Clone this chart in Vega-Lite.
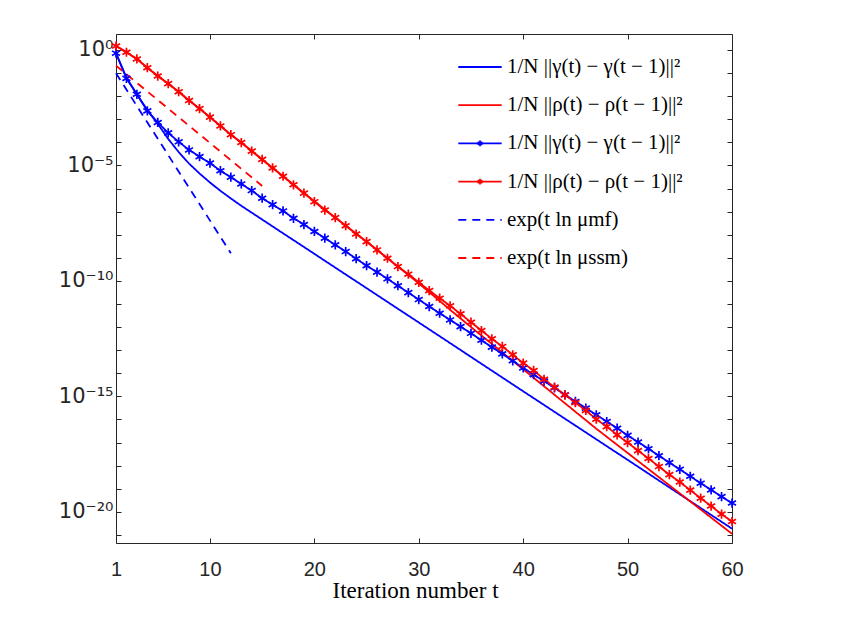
{
  "$schema": "https://vega.github.io/schema/vega-lite/v6.json",
  "width": 616,
  "height": 509,
  "autosize": {"type": "none"},
  "padding": {"left": 116, "top": 34, "right": 123, "bottom": 76},
  "background": "white",
  "config": {
    "view": {"stroke": null},
    "axis": {
      "domainColor": "#262626", "tickColor": "#262626", "labelColor": "#262626", "titleColor": "#000000",
      "grid": false, "tickSize": -5, "domainWidth": 1, "tickWidth": 1,
      "labelFont": "Liberation Sans", "labelFontSize": 20
    }
  },
  "data": {"values": [
    {"s":"g","t":1,"v":0.724},{"s":"g","t":2,"v":0.0631},{"s":"g","t":3,"v":0.0120},{"s":"g","t":4,"v":2.51e-3},{"s":"g","t":5,"v":6.31e-4},{"s":"g","t":6,"v":1.41e-4},{"s":"g","t":7,"v":3.80e-5},{"s":"g","t":8,"v":1.20e-5},{"s":"g","t":9,"v":4.47e-6},{"s":"g","t":10,"v":1.82e-6},{"s":"g","t":11,"v":7.94e-7},{"s":"g","t":12,"v":3.72e-7},{"s":"g","t":13,"v":1.78e-7},{"s":"g","t":20,"v":1.48e-9},{"s":"g","t":30,"v":1.58e-12},{"s":"g","t":40,"v":1.66e-15},{"s":"g","t":50,"v":1.78e-18},{"s":"g","t":60,"v":1.86e-21},
    {"s":"r","t":1,"v":1.48},{"s":"r","t":2,"v":0.794},{"s":"r","t":3,"v":0.407},{"s":"r","t":4,"v":0.170},{"s":"r","t":5,"v":0.0741},{"s":"r","t":6,"v":0.0347},{"s":"r","t":7,"v":0.0155},{"s":"r","t":8,"v":6.46e-3},{"s":"r","t":9,"v":2.88e-3},{"s":"r","t":10,"v":1.23e-3},{"s":"r","t":11,"v":5.13e-4},{"s":"r","t":12,"v":2.14e-4},{"s":"r","t":13,"v":9.77e-5},{"s":"r","t":16,"v":7.76e-6},{"s":"r","t":19,"v":6.31e-7},{"s":"r","t":22,"v":5.50e-8},{"s":"r","t":25,"v":5.01e-9},{"s":"r","t":28,"v":4.17e-10},{"s":"r","t":29,"v":1.82e-10},{"s":"r","t":30,"v":7.76e-11},{"s":"r","t":31,"v":3.24e-11},{"s":"r","t":32,"v":1.35e-11},{"s":"r","t":33,"v":5.62e-12},{"s":"r","t":35,"v":1.00e-12},{"s":"r","t":40,"v":1.48e-14},{"s":"r","t":47,"v":3.98e-17},{"s":"r","t":50,"v":3.55e-18},{"s":"r","t":55,"v":6.31e-20},{"s":"r","t":60,"v":1.12e-21},
    {"s":"gs","t":1,"v":0.724},{"s":"gs","t":2,"v":0.0589},{"s":"gs","t":3,"v":0.0120},{"s":"gs","t":4,"v":2.29e-3},{"s":"gs","t":5,"v":7.24e-4},{"s":"gs","t":6,"v":2.57e-4},{"s":"gs","t":7,"v":1.05e-4},{"s":"gs","t":8,"v":4.68e-5},{"s":"gs","t":9,"v":2.40e-5},{"s":"gs","t":10,"v":1.26e-5},
    {"s":"gs","t":11,"v":5.89e-6},{"s":"gs","t":12,"v":3.09e-6},{"s":"gs","t":13,"v":1.58e-6},{"s":"gs","t":14,"v":8.13e-7},{"s":"gs","t":15,"v":3.80e-7},{"s":"gs","t":16,"v":2.00e-7},{"s":"gs","t":17,"v":1.07e-7},{"s":"gs","t":18,"v":5.13e-8},{"s":"gs","t":19,"v":2.75e-8},{"s":"gs","t":20,"v":1.38e-8},
    {"s":"gs","t":21,"v":7.08e-9},{"s":"gs","t":22,"v":3.63e-9},{"s":"gs","t":23,"v":1.86e-9},{"s":"gs","t":24,"v":9.12e-10},{"s":"gs","t":25,"v":4.57e-10},{"s":"gs","t":26,"v":2.40e-10},{"s":"gs","t":27,"v":1.23e-10},{"s":"gs","t":28,"v":6.17e-11},{"s":"gs","t":29,"v":3.09e-11},{"s":"gs","t":30,"v":1.55e-11},
    {"s":"gs","t":31,"v":7.76e-12},{"s":"gs","t":32,"v":3.98e-12},{"s":"gs","t":33,"v":2.04e-12},{"s":"gs","t":34,"v":1.05e-12},{"s":"gs","t":35,"v":5.37e-13},{"s":"gs","t":36,"v":2.69e-13},{"s":"gs","t":37,"v":1.35e-13},{"s":"gs","t":38,"v":6.92e-14},{"s":"gs","t":39,"v":3.47e-14},{"s":"gs","t":40,"v":1.70e-14},
    {"s":"gs","t":41,"v":8.71e-15},{"s":"gs","t":42,"v":4.57e-15},{"s":"gs","t":43,"v":2.34e-15},{"s":"gs","t":44,"v":1.17e-15},{"s":"gs","t":45,"v":6.03e-16},{"s":"gs","t":46,"v":3.09e-16},{"s":"gs","t":47,"v":1.58e-16},{"s":"gs","t":48,"v":8.13e-17},{"s":"gs","t":49,"v":4.17e-17},{"s":"gs","t":50,"v":2.04e-17},
    {"s":"gs","t":51,"v":1.05e-17},{"s":"gs","t":52,"v":5.37e-18},{"s":"gs","t":53,"v":2.69e-18},{"s":"gs","t":54,"v":1.35e-18},{"s":"gs","t":55,"v":6.92e-19},{"s":"gs","t":56,"v":3.47e-19},{"s":"gs","t":57,"v":1.74e-19},{"s":"gs","t":58,"v":8.91e-20},{"s":"gs","t":59,"v":4.57e-20},{"s":"gs","t":60,"v":2.40e-20},
    {"s":"rs","t":1,"v":1.48},{"s":"rs","t":2,"v":0.794},{"s":"rs","t":3,"v":0.407},{"s":"rs","t":4,"v":0.170},{"s":"rs","t":5,"v":0.0741},{"s":"rs","t":6,"v":0.0347},{"s":"rs","t":7,"v":0.0155},{"s":"rs","t":8,"v":6.46e-3},{"s":"rs","t":9,"v":2.88e-3},{"s":"rs","t":10,"v":1.23e-3},
    {"s":"rs","t":11,"v":5.13e-4},{"s":"rs","t":12,"v":2.14e-4},{"s":"rs","t":13,"v":9.77e-5},{"s":"rs","t":14,"v":4.17e-5},{"s":"rs","t":15,"v":1.82e-5},{"s":"rs","t":16,"v":7.76e-6},{"s":"rs","t":17,"v":3.39e-6},{"s":"rs","t":18,"v":1.45e-6},{"s":"rs","t":19,"v":6.31e-7},{"s":"rs","t":20,"v":2.69e-7},
    {"s":"rs","t":21,"v":1.17e-7},{"s":"rs","t":22,"v":5.50e-8},{"s":"rs","t":23,"v":2.45e-8},{"s":"rs","t":24,"v":1.07e-8},{"s":"rs","t":25,"v":5.01e-9},{"s":"rs","t":26,"v":2.19e-9},{"s":"rs","t":27,"v":9.55e-10},{"s":"rs","t":28,"v":4.17e-10},{"s":"rs","t":29,"v":1.95e-10},{"s":"rs","t":30,"v":8.71e-11},
    {"s":"rs","t":31,"v":3.80e-11},{"s":"rs","t":32,"v":1.78e-11},{"s":"rs","t":33,"v":8.32e-12},{"s":"rs","t":34,"v":3.72e-12},{"s":"rs","t":35,"v":1.62e-12},{"s":"rs","t":36,"v":7.08e-13},{"s":"rs","t":37,"v":3.09e-13},{"s":"rs","t":38,"v":1.45e-13},{"s":"rs","t":39,"v":6.31e-14},{"s":"rs","t":40,"v":2.75e-14},
    {"s":"rs","t":41,"v":1.32e-14},{"s":"rs","t":42,"v":5.50e-15},{"s":"rs","t":43,"v":2.51e-15},{"s":"rs","t":44,"v":1.15e-15},{"s":"rs","t":45,"v":5.37e-16},{"s":"rs","t":46,"v":2.45e-16},{"s":"rs","t":47,"v":1.02e-16},{"s":"rs","t":48,"v":4.90e-17},{"s":"rs","t":49,"v":2.14e-17},{"s":"rs","t":50,"v":1.00e-17},
    {"s":"rs","t":51,"v":4.47e-18},{"s":"rs","t":52,"v":2.04e-18},{"s":"rs","t":53,"v":9.12e-19},{"s":"rs","t":54,"v":4.07e-19},{"s":"rs","t":55,"v":1.95e-19},{"s":"rs","t":56,"v":8.71e-20},{"s":"rs","t":57,"v":3.89e-20},{"s":"rs","t":58,"v":1.78e-20},{"s":"rs","t":59,"v":7.94e-21},{"s":"rs","t":60,"v":3.80e-21},
    {"s":"gd","t":1,"v":9.77e-2},{"s":"gd","t":12,"v":1.58e-9},
    {"s":"rd","t":1,"v":2.09e-1},{"s":"rd","t":15,"v":1.29e-6}
  ]},
  "layer": [
    {
      "mark": {"type": "line", "strokeWidth": 1.8},
      "encoding": {
        "x": {"field": "t", "type": "quantitative", "scale": {"domain": [1, 60]},
          "axis": {"orient": "bottom", "values": [1, 10, 20, 30, 40, 50, 60], "format": "d", "labelFlush": false, "labelPadding": 21,
            "title": "Iteration number t", "titleFont": "Liberation Serif", "titleFontSize": 23, "titleFontWeight": "normal", "titlePadding": 0, "titleX": 299}},
        "y": {"field": "v", "type": "quantitative", "scale": {"type": "log", "domain": [4.47e-22, 4.9]},
          "axis": {"orient": "left", "values": [1, 1e-1, 1e-2, 1e-3, 1e-4, 1e-5, 1e-6, 1e-7, 1e-8, 1e-9, 1e-10, 1e-11, 1e-12, 1e-13, 1e-14, 1e-15, 1e-16, 1e-17, 1e-18, 1e-19, 1e-20, 1e-21],
            "labelExpr": "round(log(datum.value)/LN10) == 0 ? '10⁰' : round(log(datum.value)/LN10) == -5 ? '10⁻⁵' : round(log(datum.value)/LN10) == -10 ? '10⁻¹⁰' : round(log(datum.value)/LN10) == -15 ? '10⁻¹⁵' : round(log(datum.value)/LN10) == -20 ? '10⁻²⁰' : ''",
            "labelFont": "DejaVu Sans", "labelFontSize": 21,
            "labelOverlap": false, "labelPadding": 8, "title": null}},
        "color": {"field": "s", "type": "nominal",
          "scale": {"domain": ["g", "r", "gs", "rs", "gd", "rd"], "range": ["#0000ff", "#ff0000", "#0000ff", "#ff0000", "#0000ff", "#ff0000"]},
          "legend": {
            "orient": "none", "legendX": 341, "legendY": 16, "title": null, "padding": 0,
            "symbolSize": 1884, "symbolStrokeWidth": 1.8, "clipHeight": 34, "rowPadding": 4.2, "labelOffset": 4,
            "labelFont": "Liberation Serif", "labelFontSize": 21, "labelColor": "#000000", "labelLimit": 400,
            "labelExpr": "datum.value == 'g' ? '1/N ||γ(t) − γ(t − 1)||²' : datum.value == 'r' ? '1/N ||ρ(t) − ρ(t − 1)||²' : datum.value == 'gs' ? '1/N ||γ(t) − γ(t − 1)||²' : datum.value == 'rs' ? '1/N ||ρ(t) − ρ(t − 1)||²' : datum.value == 'gd' ? 'exp(t ln μmf)' : 'exp(t ln μssm)'",
            "encode": {"symbols": {"update": {
              "shape": {"signal": "indexof(['gs','rs'], datum.value) >= 0 ? 'M-1,0H1M0,-0.13V0.13M-0.113,-0.065L0.113,0.065M-0.113,0.065L0.113,-0.065' : 'M-1,0H1'"},
              "strokeDash": {"signal": "indexof(['gd','rd'], datum.value) >= 0 ? [8,6] : [1,0]"}
            }}}
          }},
        "strokeDash": {"field": "s", "type": "nominal",
          "scale": {"domain": ["g", "r", "gs", "rs", "gd", "rd"], "range": [[1, 0], [1, 0], [1, 0], [1, 0], [8, 6], [8, 6]]},
          "legend": null},
        "order": {"field": "t", "type": "quantitative"}
      }
    },
    {
      "transform": [{"filter": {"field": "s", "oneOf": ["gs", "rs"]}}],
      "mark": {"type": "point", "filled": false, "shape": "M0,-1V1M-0.866,-0.5L0.866,0.5M-0.866,0.5L0.866,-0.5", "size": 85, "strokeWidth": 1.7, "opacity": 1},
      "encoding": {
        "x": {"field": "t", "type": "quantitative", "scale": {"domain": [1, 60]},
          "axis": {"orient": "top", "values": [1, 10, 20, 30, 40, 50, 60], "labels": false, "title": null}},
        "y": {"field": "v", "type": "quantitative", "scale": {"type": "log", "domain": [4.47e-22, 4.9]},
          "axis": {"orient": "right", "values": [1, 1e-1, 1e-2, 1e-3, 1e-4, 1e-5, 1e-6, 1e-7, 1e-8, 1e-9, 1e-10, 1e-11, 1e-12, 1e-13, 1e-14, 1e-15, 1e-16, 1e-17, 1e-18, 1e-19, 1e-20, 1e-21], "labels": false, "title": null}},
        "stroke": {"field": "s", "type": "nominal", "scale": {"domain": ["gs", "rs"], "range": ["#0000ff", "#ff0000"]}, "legend": null}
      }
    }
  ],
  "resolve": {"scale": {"x": "independent", "y": "independent"}}
}
